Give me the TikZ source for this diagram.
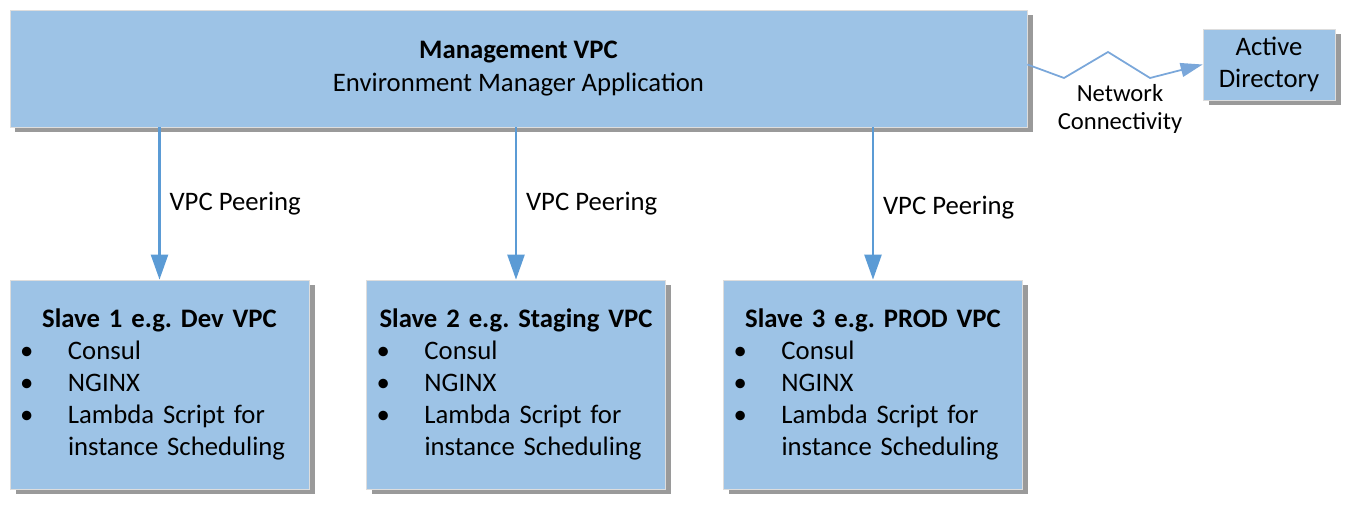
\documentclass[tikz,border=0pt]{standalone}
\usepackage{fontspec}
\setmainfont{Carlito}
\usetikzlibrary{arrows.meta, positioning, shadows}
\definecolor{vpcfill}{HTML}{9DC3E6}
\definecolor{vpcedge}{HTML}{DDDDDD}
\definecolor{peerblue}{HTML}{5B9BD5}
\definecolor{netblue}{HTML}{7AA7DA}
\definecolor{shadowgray}{HTML}{9A9A9A}
\newcommand{\vpcitem}[1]{\par\noindent\makebox[0.96cm][l]{\textbullet}\parbox[t]{4.6cm}{\raggedright #1}}
\frenchspacing

\begin{document}
\begin{tikzpicture}[
  vpc/.style={rectangle, draw=vpcedge, fill=vpcfill, thin, font=\fontsize{15.2}{18.2}\selectfont,
    drop shadow={shadow xshift=0.11cm, shadow yshift=-0.11cm, fill=shadowgray, opacity=1}},
  slave/.style={vpc, minimum width=5.98cm, minimum height=4.18cm, text width=5.58cm, inner xsep=0.2cm, align=left},
  peer/.style={draw=peerblue, line width=1.4pt, -{Triangle[length=0.5cm, width=0.34cm]}},
  net/.style={draw=netblue, line width=1pt, -{Triangle[length=0.44cm, width=0.28cm]}},
  label/.style={font=\fontsize{15.2}{18.2}\selectfont}
]
\useasboundingbox (0,0) rectangle (27.1,10.2);

% Management VPC
\node[vpc, minimum width=20.34cm, minimum height=2.34cm, align=center, font=\fontsize{15.2}{18.6}\selectfont] (mgmt) at (10.37, 8.83)
  {\textbf{Management VPC}\\Environment Manager Application};

% Active Directory
\node[vpc, minimum width=2.64cm, minimum height=1.42cm, align=center, text depth=0.08cm] (ad) at (25.38, 8.91) {Active\\Directory};

% network link
\draw[net] (mgmt.east |- ad.west) -- (21.28,8.64) -- (22.16,9.16) -- (23.0,8.64) -- (ad.west);
\node[label, align=center, font=\fontsize{14}{16}\selectfont] (netlbl) at (22.4, 8.02) {Network\\Connectivity};

% Slave VPCs
\foreach \i/\name/\x/\p in {1/Dev/3.19/0.5, 2/Staging/10.32/0.5, 3/PROD/17.46/0.53} {
  \node[slave] (s\i) at (\x, 2.51) {{\centering\bfseries Slave \i{} e.g. \name{} VPC\par}
    \vpcitem{Consul}
    \vpcitem{NGINX}
    \vpcitem{Lambda Script for\\instance Scheduling}};
  \draw[peer] (s\i.north |- mgmt.south) -- node[label, pos=\p, right=0.06cm] {VPC Peering} (s\i.north);
}

\end{tikzpicture}
\end{document}
